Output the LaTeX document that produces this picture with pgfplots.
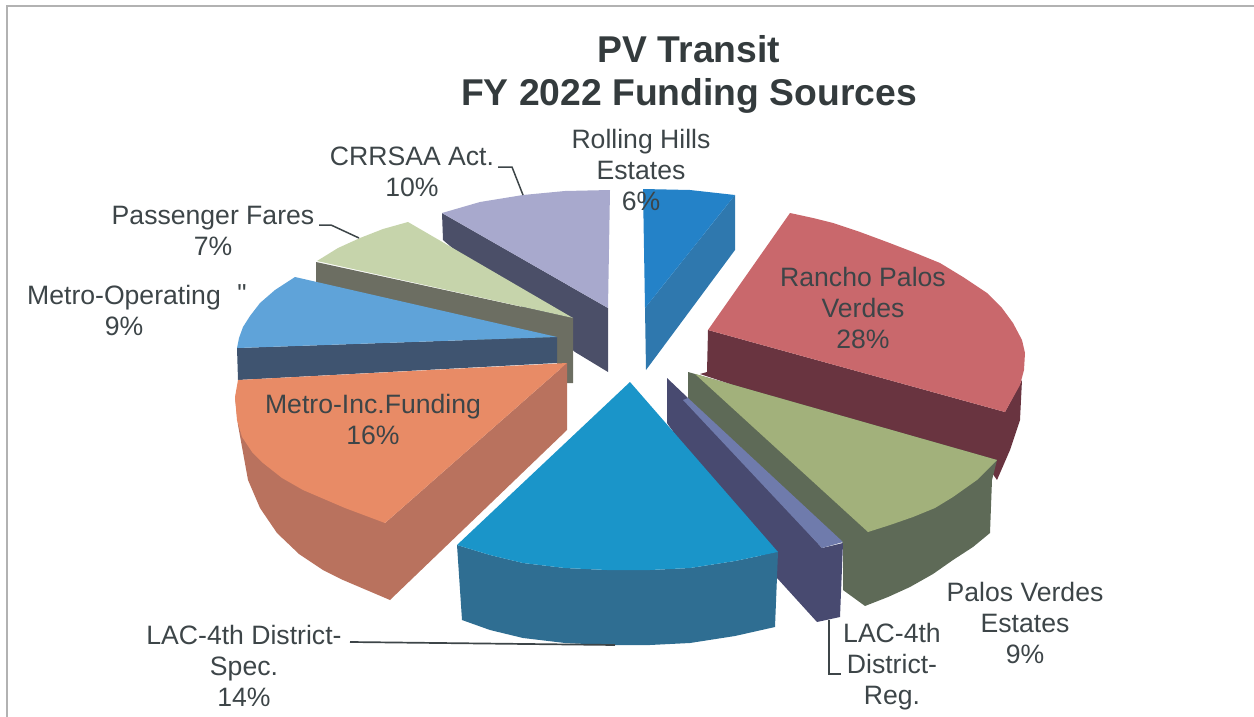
\documentclass[border=0pt]{standalone}
\usepackage{pgfplots}
\pgfplotsset{compat=1.18}
\usepackage{fontspec}
\setmainfont{Liberation Sans}
\newfontfamily\plainf{Liberation Sans}
\definecolor{tx}{HTML}{3D4548}
\definecolor{rt}{HTML}{C9686C}\definecolor{rs}{HTML}{693440}
\definecolor{gt}{HTML}{A2B17B}\definecolor{gs}{HTML}{5E6A57}
\definecolor{ct}{HTML}{2482C8}\definecolor{cs}{HTML}{2F78AE}
\definecolor{bt}{HTML}{1A95C9}\definecolor{bs}{HTML}{2F6E92}
\definecolor{pt}{HTML}{6F7BAC}\definecolor{ps}{HTML}{484A70}
\definecolor{ot}{HTML}{E88B66}\definecolor{os}{HTML}{B9725E}
\definecolor{lt}{HTML}{5FA3D9}\definecolor{ls}{HTML}{3F5470}
\definecolor{ft}{HTML}{C6D4AB}\definecolor{fs}{HTML}{6C6E62}
\definecolor{vt}{HTML}{A8A9CD}\definecolor{vs}{HTML}{4B4F68}
\pgfplotsset{face/.style={draw=none,fill=#1,mark=none,line width=0pt}}
\begin{document}
\begin{tikzpicture}
\begin{axis}[hide axis,scale only axis,width=1254pt,height=717pt,xmin=0,xmax=1254,ymin=0,ymax=717,y dir=reverse,clip=true]
\path (axis cs:0,0) rectangle (axis cs:1254,717);
% frame
\addplot[draw=black!30,line width=1.6pt,mark=none] coordinates {(7,717)(7,6)(1254,6)};
% CRRSAA
\addplot[face=vs] coordinates {(442,213)(608,308)(608,372)(575,352)(443,240)} -- cycle;
\addplot[face=vt] coordinates {(442,213)(480,202)(523,195)(565,191)(610,190)(608,308)} -- cycle;
% Passenger fares
\addplot[face=fs] coordinates {(316,262)(573,318)(573,383)(566,383)(557,363)(316,300)} -- cycle;
\addplot[face=ft] coordinates {(317,261)(338,248)(360,238)(383,229)(408,222)(573,318)} -- cycle;
% Metro operating
\addplot[face=ls] coordinates {(237,348)(557,337)(557,363)(238,380)} -- cycle;
\addplot[face=lt] coordinates {(295,277)(275,290)(260,303)(250,316)(243,327)(239,338)(237,348)(557,337)} -- cycle;
% Metro inc
\addplot[face=os] coordinates {(567,363)(567,430)(390,600)(343,580)(323,570)(299,554)(277,533)(260,508)(248,480)(238,425)(235,397)(385,523)} -- cycle;
\addplot[face=ot] coordinates {(567,363)(238,380)(235,397)(237,420)(242,437)(252,452)(263,463)(282,478)(303,490)(345,508)(385,523)} -- cycle;
% Rolling Hills
\addplot[face=cs] coordinates {(735,195)(735,250)(646,370)(645,308)} -- cycle;
\addplot[face=ct] coordinates {(643,189)(690,190)(735,195)(645,308)} -- cycle;
% Rancho
\addplot[face=rs] coordinates {(708,330)(1005,412)(1022,380)(1020,420)(1010,450)(997,480)(990,470)(700,374)(707,372)} -- cycle;
\addplot[face=rt] coordinates {(790,213)(813,218)(833,223)(860,232)(887,242)(913,252)(940,263)(963,277)(987,293)(1002,308)(1013,323)(1022,340)(1025,353)(1024,370)(1020,385)(1005,412)(708,330)} -- cycle;
% Palos Verdes Estates
\addplot[face=gs] coordinates {(688,372)(997,460)(992,480)(990,533)(973,547)(953,560)(933,574)(910,587)(888,597)(865,606)(843,590)(843,543)(688,400)} -- cycle;
\addplot[face=gt] coordinates {(695,374)(997,460)(977,480)(953,497)(935,508)(913,517)(890,525)(868,532)} -- cycle;
% LAC reg
\addplot[face=ps] coordinates {(667,378)(688,398)(822,548)(843,543)(840,617)(817,622)(777,578)(667,423)} -- cycle;
\addplot[face=pt] coordinates {(688,398)(843,542)(822,548)(683,400)} -- cycle;
% LAC spec
\addplot[face=bs] coordinates {(457,545)(490,555)(523,563)(565,568)(607,570)(650,570)(690,568)(735,561)(778,552)(775,627)(735,636)(690,643)(650,645)(607,645)(565,643)(523,638)(490,630)(462,620)} -- cycle;
\addplot[face=bt] coordinates {(630,382)(778,552)(735,561)(690,568)(650,570)(607,570)(565,568)(523,563)(490,555)(457,545)} -- cycle;
% leaders
\addplot[draw=tx,line width=1.7pt,mark=none] coordinates {(350,642)(615,645)};
\addplot[draw=tx,line width=1.5pt,mark=none] coordinates {(829,620)(829,674)(841,674)};
\addplot[draw=tx,line width=1.5pt,mark=none] coordinates {(319,225)(331,225)(359,238)};
\addplot[draw=tx,line width=1.5pt,mark=none] coordinates {(498,167)(512,167)(523,195)};
% text
\newcommand{\lab}[3]{\node[text=tx,align=center,font=\fontsize{26.6}{31}\selectfont,anchor=center,inner sep=0pt] at (axis cs:#1,#2) {#3};}
\node[text=tx!85!black,align=center,font=\fontsize{37.3}{43}\selectfont\bfseries,inner sep=0pt] at (axis cs:689,74) {PV Transit\\FY 2022 Funding Sources};
\lab{641}{170}{Rolling Hills\\Estates\\6\%}
\lab{863}{308}{Rancho Palos\\Verdes\\28\%}
\lab{412}{171.5}{CRRSAA Act.\\10\%}
\lab{213}{231}{Passenger Fares\\7\%}
\lab{124}{310}{Metro-Operating\\9\%}
\node[text=tx,font=\plainf\fontsize{26}{31}\selectfont,inner sep=0pt] at (axis cs:242,294) {"};
\lab{373}{419}{Metro-Inc.Funding\\16\%}
\lab{244}{666}{LAC-4th District-\\Spec.\\14\%}
\lab{892}{667}{LAC-4th\\District-\\Reg.}
\lab{1025}{623}{Palos Verdes\\Estates\\9\%}
\end{axis}
\end{tikzpicture}
\end{document}
